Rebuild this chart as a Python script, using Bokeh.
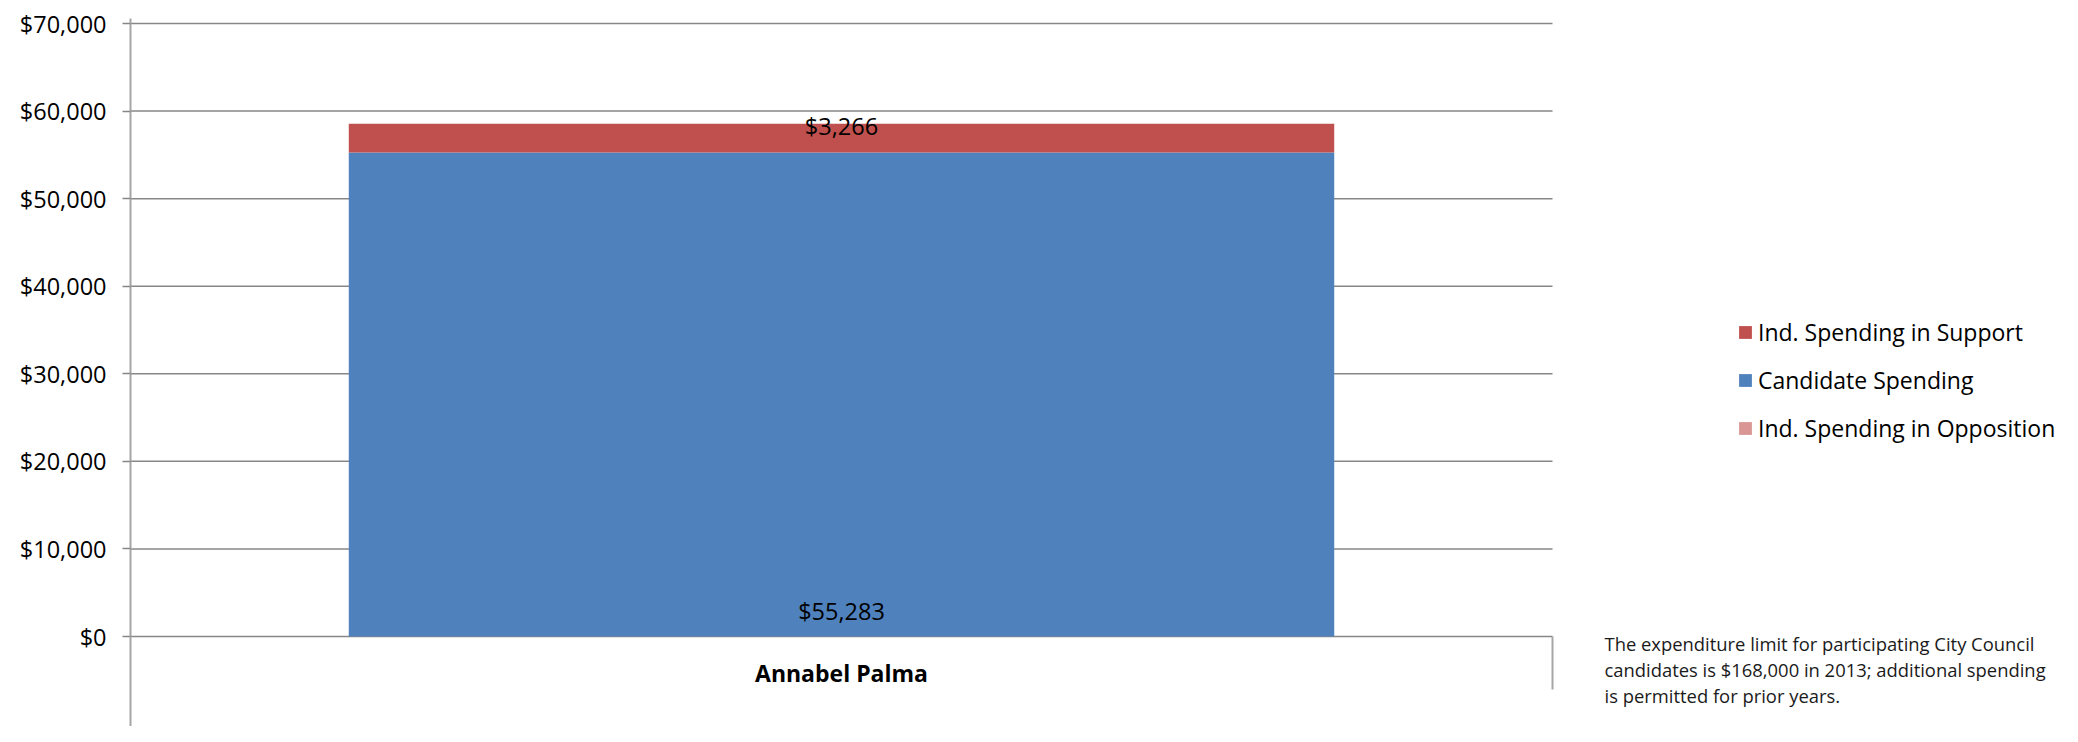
from bokeh.plotting import figure
from bokeh.models import (ColumnDataSource, Range1d, FixedTicker,
                          NumeralTickFormatter, Legend, LegendItem, Label)
from bokeh.core.properties import value
from bokeh.embed import file_html
from bokeh.resources import INLINE

# ---------------- data ----------------
candidates = ["Annabel Palma"]
candidate_spending = [55283]
ind_support = [3266]
ind_opposition = [0]
y_ticks = [0, 10000, 20000, 30000, 40000, 50000, 60000, 70000]
footnote_lines = [
    "The expenditure limit for participating City Council",
    "candidates is $168,000 in 2013; additional spending",
    "is permitted for prior years.",
]

# ---------------- layout constants (pixels) ----------------
W, H = 2062, 726
LEFT = 130              # frame left (y axis)
CAT_PX = 1422           # pixel width of one category slot
TOP_TICK_PX = 23        # screen y of the top tick
FRAME_TOP = 18
ZERO_PX = 636           # screen y of the $0 line
FONT = "Open Sans"

y_top_tick = y_ticks[-1]
per_px = y_top_tick / (ZERO_PX - TOP_TICK_PX)
y_max = y_top_tick + (TOP_TICK_PX - FRAME_TOP) * per_px
y_min = -(H - ZERO_PX) * per_px
x_max = (W - LEFT) / CAT_PX

BLUE = "#4F81BD"
RED = "#C0504D"
PINK = "#D99694"
GRID = "#878787"
AXIS = "#a6a6a6"

n = len(candidates)
xpos = [i + 0.5 for i in range(n)]
src = ColumnDataSource(dict(
    x=xpos,
    cs=candidate_spending,
    sup=ind_support,
    opp=ind_opposition,
))

p = figure(width=W, height=H, output_backend="svg", toolbar_location=None,
           x_range=Range1d(0, x_max), y_range=Range1d(y_min, y_max),
           min_border_left=LEFT, min_border_right=0,
           min_border_top=FRAME_TOP, min_border_bottom=0)
p.outline_line_color = None
p.background_fill_color = "white"
p.border_fill_color = "white"

# gridlines limited to the category area
p.segment(x0=[0] * len(y_ticks), x1=[n] * len(y_ticks), y0=y_ticks, y1=y_ticks,
          line_color=GRID, line_width=1.5)

renderers = p.vbar_stack(["cs", "sup", "opp"], x="x", width=0.693,
                         color=[BLUE, RED, PINK], line_color=None, source=src)

# axes
p.xaxis.visible = False
p.xgrid.visible = False
p.ygrid.visible = False
yax = p.yaxis[0]
yax.ticker = FixedTicker(ticks=y_ticks)
yax.formatter = NumeralTickFormatter(format="$0,0")
yax.major_label_text_font = FONT
yax.major_label_text_font_size = "23.5px"
yax.major_label_text_color = "#000000"
yax.major_label_standoff = 16
yax.major_tick_out = 8
yax.major_tick_in = 0
yax.major_tick_line_color = GRID
yax.major_tick_line_width = 1.5
yax.minor_tick_line_color = None
yax.axis_line_color = AXIS
yax.axis_line_width = 2

# category boundary tick below the axis (right side)
p.segment(x0=[n], y0=[0], x1=[n], y1=[-6050], line_color=AXIS, line_width=2)

# data labels
tops = [c + s for c, s in zip(candidate_spending, ind_support)]
p.text(x=xpos, y=[0] * n,
       text=[f"${v:,}" for v in candidate_spending],
       text_font=value(FONT), text_font_size="23.5px", text_color="black",
       text_align="center", text_baseline="middle", y_offset=-26)
p.text(x=xpos, y=tops,
       text=[f"${v:,}" for v in ind_support],
       text_font=value(FONT), text_font_size="23.5px", text_color="black",
       text_align="center", text_baseline="middle", y_offset=2)

# category label
p.text(x=xpos, y=[0] * n, text=candidates,
       text_font=value(FONT), text_font_size="23px", text_font_style="bold",
       text_color="black", text_align="center", text_baseline="middle",
       y_offset=36)

# legend
legend = Legend(items=[
    LegendItem(label="Ind. Spending in Support", renderers=[renderers[1]]),
    LegendItem(label="Candidate Spending", renderers=[renderers[0]]),
    LegendItem(label="Ind. Spending in Opposition", renderers=[renderers[2]]),
], location=(1607, 282), orientation="vertical")
legend.glyph_width = 16
legend.glyph_height = 16
legend.label_height = 28
legend.spacing = 16
legend.padding = 0
legend.margin = 0
legend.label_standoff = 5
legend.label_text_font = FONT
legend.label_text_font_size = "23px"
legend.label_text_color = "black"
legend.border_line_color = None
legend.background_fill_alpha = 0
p.add_layout(legend, "center")

# footnote
for line, yy in zip(footnote_lines, [83, 57, 31]):
    p.add_layout(Label(x=1474, y=yy, x_units="screen", y_units="screen",
                       text=line, text_font=FONT, text_font_size="18.4px",
                       text_color="#1a1a1a", text_baseline="alphabetic"))

open("out.html", "w").write(file_html(p, INLINE))
